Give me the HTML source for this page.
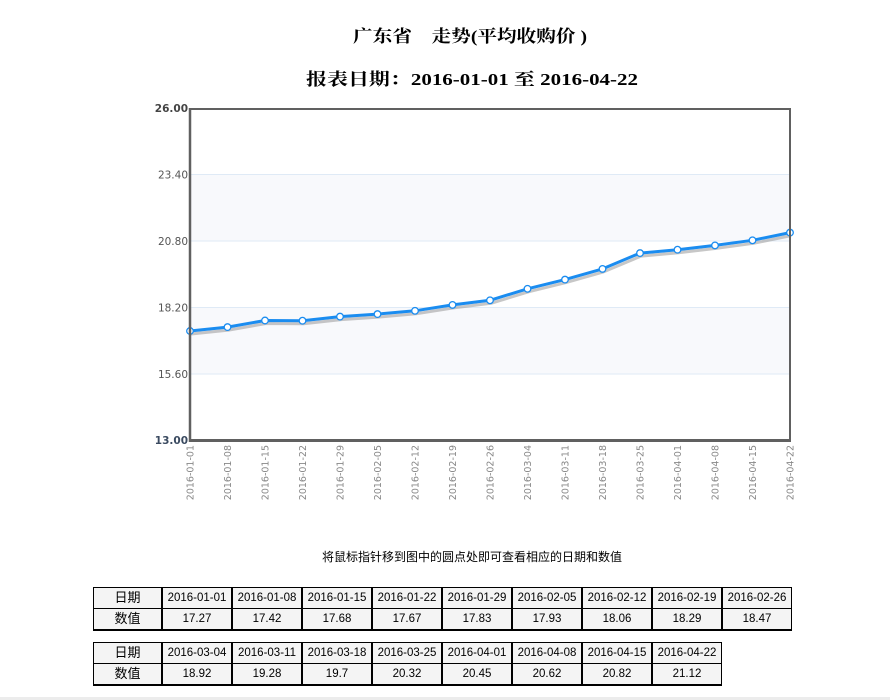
<!DOCTYPE html>
<html>
<head>
<meta charset="utf-8">
<style>
  html,body{margin:0;padding:0;background:#fff;width:890px;height:700px;overflow:hidden;position:relative;}
  .tbl{position:absolute;border-collapse:separate;border-spacing:0;border-right:1px solid #000;border-bottom:2px solid #000;font-family:"Liberation Sans","Noto Sans CJK SC",sans-serif;font-size:11.5px;color:#000;}
  .tbl td{background:#f4f4f4;border-top:1px solid #000;border-left:2px solid #000;padding:0;width:68px;height:20px;text-align:center;line-height:20px;white-space:nowrap;}
  .tbl td.lab{border-left:1px solid #000;width:67px;font-size:13px;}
  .hint{position:absolute;left:322px;top:549px;width:300px;font-family:"Noto Sans CJK SC","WenQuanYi Zen Hei",sans-serif;font-size:12px;line-height:16px;color:#000;white-space:nowrap;}
  .bottombar{position:absolute;left:0;top:697px;width:890px;height:3px;background:#ececec;}
</style>
</head>
<body>
<svg width="890" height="540" style="position:absolute;left:0;top:0" xmlns="http://www.w3.org/2000/svg">
  <text x="353" y="42" font-family="'Liberation Serif','Noto Serif CJK SC',serif" font-weight="bold" font-size="17" textLength="234" lengthAdjust="spacingAndGlyphs" fill="#000">广东省　走势(平均收购价 )</text>
  <text x="306" y="85" font-family="'Liberation Serif','Noto Serif CJK SC',serif" font-weight="bold" font-size="17" textLength="332" lengthAdjust="spacingAndGlyphs" fill="#000">报表日期：2016-01-01 至 2016-04-22</text>

  <rect x="190" y="108" width="600" height="332" fill="#ffffff"/>
  <rect x="190" y="174.4" width="600" height="66.4" fill="#f8f9fc"/>
  <rect x="190" y="307.2" width="600" height="66.4" fill="#f8f9fc"/>
  <g stroke="#dfeaf6" stroke-width="1">
    <line x1="190" y1="174.5" x2="790" y2="174.5"/>
    <line x1="190" y1="241" x2="790" y2="241"/>
    <line x1="190" y1="307.5" x2="790" y2="307.5"/>
    <line x1="190" y1="374" x2="790" y2="374"/>
  </g>

  <polyline fill="none" stroke="#999" stroke-opacity="0.55" stroke-width="3" stroke-linejoin="round"
    points="191,334 228.5,330.1 266,323.5 303.5,323.7 341,319.6 378.5,317.1 416,313.8 453.5,307.9 491,303.3 528.5,291.8 566,282.6 603.5,271.9 641,256.1 678.5,252.7 716,248.4 753.5,243.3 791,235.6"/>
  <polyline fill="none" stroke="#1a8cf0" stroke-width="3" stroke-linejoin="round"
    points="190,331 227.5,327.1 265,320.5 302.5,320.7 340,316.6 377.5,314.1 415,310.8 452.5,304.9 490,300.3 527.5,288.8 565,279.6 602.5,268.9 640,253.1 677.5,249.7 715,245.4 752.5,240.3 790,232.6"/>
  <g fill="#fff" stroke="#1a8cf0" stroke-width="1.3">
    <circle cx="190" cy="331" r="3.3"/>
    <circle cx="227.5" cy="327.1" r="3.3"/>
    <circle cx="265" cy="320.5" r="3.3"/>
    <circle cx="302.5" cy="320.7" r="3.3"/>
    <circle cx="340" cy="316.6" r="3.3"/>
    <circle cx="377.5" cy="314.1" r="3.3"/>
    <circle cx="415" cy="310.8" r="3.3"/>
    <circle cx="452.5" cy="304.9" r="3.3"/>
    <circle cx="490" cy="300.3" r="3.3"/>
    <circle cx="527.5" cy="288.8" r="3.3"/>
    <circle cx="565" cy="279.6" r="3.3"/>
    <circle cx="602.5" cy="268.9" r="3.3"/>
    <circle cx="640" cy="253.1" r="3.3"/>
    <circle cx="677.5" cy="249.7" r="3.3"/>
    <circle cx="715" cy="245.4" r="3.3"/>
    <circle cx="752.5" cy="240.3" r="3.3"/>
    <circle cx="790" cy="232.6" r="3.3"/>
  </g>

  <line x1="190" y1="109" x2="790" y2="109" stroke="#606060" stroke-width="2"/>
  <line x1="790" y1="108" x2="790" y2="441" stroke="#606060" stroke-width="2"/>
  <line x1="190" y1="108" x2="190" y2="442" stroke="#606060" stroke-width="2.5"/>
  <line x1="189" y1="440.5" x2="791" y2="440.5" stroke="#606060" stroke-width="3"/>

  <g font-family="'DejaVu Sans',Verdana,sans-serif" font-size="10.5" text-anchor="end">
    <text x="188" y="112" font-weight="bold" fill="#444">26.00</text>
    <text x="188" y="178.5" fill="#555">23.40</text>
    <text x="188" y="245" fill="#555">20.80</text>
    <text x="188" y="311.5" fill="#555">18.20</text>
    <text x="188" y="378" fill="#555">15.60</text>
    <text x="188" y="444" font-weight="bold" fill="#3a4a60">13.00</text>
  </g>

  <g font-family="'DejaVu Sans',Verdana,sans-serif" font-size="9.5" fill="#888" text-anchor="end">
    <text transform="translate(193.5,445) rotate(-90)">2016-01-01</text>
    <text transform="translate(231,445) rotate(-90)">2016-01-08</text>
    <text transform="translate(268.5,445) rotate(-90)">2016-01-15</text>
    <text transform="translate(306,445) rotate(-90)">2016-01-22</text>
    <text transform="translate(343.5,445) rotate(-90)">2016-01-29</text>
    <text transform="translate(381,445) rotate(-90)">2016-02-05</text>
    <text transform="translate(418.5,445) rotate(-90)">2016-02-12</text>
    <text transform="translate(456,445) rotate(-90)">2016-02-19</text>
    <text transform="translate(493.5,445) rotate(-90)">2016-02-26</text>
    <text transform="translate(531,445) rotate(-90)">2016-03-04</text>
    <text transform="translate(568.5,445) rotate(-90)">2016-03-11</text>
    <text transform="translate(606,445) rotate(-90)">2016-03-18</text>
    <text transform="translate(643.5,445) rotate(-90)">2016-03-25</text>
    <text transform="translate(681,445) rotate(-90)">2016-04-01</text>
    <text transform="translate(718.5,445) rotate(-90)">2016-04-08</text>
    <text transform="translate(756,445) rotate(-90)">2016-04-15</text>
    <text transform="translate(793.5,445) rotate(-90)">2016-04-22</text>
  </g>
</svg>

<div class="hint">将鼠标指针移到图中的圆点处即可查看相应的日期和数值</div>

<table class="tbl" style="left:93px;top:587px;">
  <tr><td class="lab">日期</td><td>2016-01-01</td><td>2016-01-08</td><td>2016-01-15</td><td>2016-01-22</td><td>2016-01-29</td><td>2016-02-05</td><td>2016-02-12</td><td>2016-02-19</td><td>2016-02-26</td></tr>
  <tr><td class="lab">数值</td><td>17.27</td><td>17.42</td><td>17.68</td><td>17.67</td><td>17.83</td><td>17.93</td><td>18.06</td><td>18.29</td><td>18.47</td></tr>
</table>

<table class="tbl" style="left:93px;top:642px;">
  <tr><td class="lab">日期</td><td>2016-03-04</td><td>2016-03-11</td><td>2016-03-18</td><td>2016-03-25</td><td>2016-04-01</td><td>2016-04-08</td><td>2016-04-15</td><td>2016-04-22</td></tr>
  <tr><td class="lab">数值</td><td>18.92</td><td>19.28</td><td>19.7</td><td>20.32</td><td>20.45</td><td>20.62</td><td>20.82</td><td>21.12</td></tr>
</table>

<div class="bottombar"></div>
</body>
</html>
